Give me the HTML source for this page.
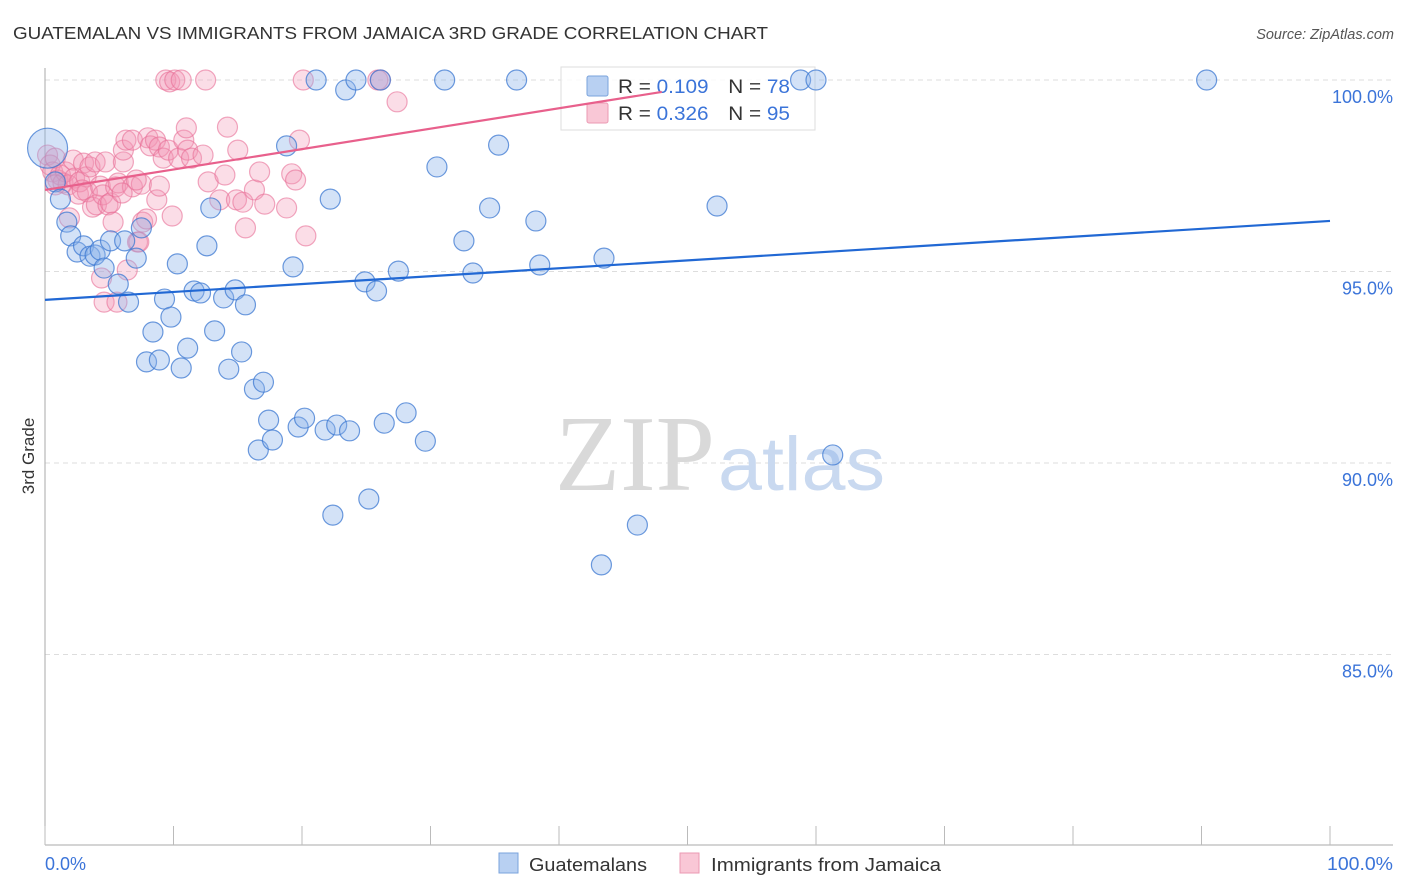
<!DOCTYPE html>
<html><head><meta charset="utf-8">
<style>
body{margin:0;background:#fff;font-family:"Liberation Sans",sans-serif;}
svg{display:block}
</style></head>
<body>
<svg width="1406" height="892" viewBox="0 0 1406 892">
<text x="13" y="39" font-size="17.5" fill="#333" textLength="755" lengthAdjust="spacingAndGlyphs">GUATEMALAN VS IMMIGRANTS FROM JAMAICA 3RD GRADE CORRELATION CHART</text>
<text x="1394" y="39" font-size="14.5" fill="#555" font-style="italic" text-anchor="end">Source: ZipAtlas.com</text>
<g id="grid"></g>
<g>
<text x="555" y="490" font-family="Liberation Serif,serif" font-size="108" fill="#d9d9d9" textLength="160" lengthAdjust="spacingAndGlyphs">ZIP</text>
<text x="718" y="490" font-size="76" fill="#c9d9f0" textLength="167" lengthAdjust="spacingAndGlyphs">atlas</text>
</g>
<g>
<rect x="561" y="67" width="254" height="63" fill="#fff" fill-opacity="0.85" stroke="#ddd"/>
<rect x="587" y="76" width="21" height="20" fill="#b8d0f2" stroke="#7aa3dc" rx="2"/>
<text x="618" y="93" font-size="19" fill="#333" textLength="172" lengthAdjust="spacingAndGlyphs">R = <tspan fill="#3b74d9">0.109</tspan><tspan dx="18">N = </tspan><tspan fill="#3b74d9">78</tspan></text>
<rect x="587" y="103" width="21" height="20" fill="#f9c7d6" stroke="#eb9ab3" rx="2"/>
<text x="618" y="120" font-size="19" fill="#333" textLength="172" lengthAdjust="spacingAndGlyphs">R = <tspan fill="#3b74d9">0.326</tspan><tspan dx="18">N = </tspan><tspan fill="#3b74d9">95</tspan></text>
</g>
<g id="marks"></g>
<text transform="translate(34,456) rotate(-90)" font-size="17" fill="#333" text-anchor="middle">3rd Grade</text>
<text x="45" y="870" font-size="18" fill="#3b74d9">0.0%</text>
<text x="1393" y="870" font-size="18" fill="#3b74d9" text-anchor="end" textLength="66" lengthAdjust="spacingAndGlyphs">100.0%</text>
<g>
<rect x="499" y="853" width="19" height="20" fill="#b8d0f2" stroke="#7aa3dc"/>
<text x="529" y="871" font-size="18.5" fill="#333" textLength="118" lengthAdjust="spacingAndGlyphs">Guatemalans</text></g>
<g>
<rect x="680" y="853" width="19" height="20" fill="#f9c7d6" stroke="#eb9ab3"/>
<text x="711" y="871" font-size="18.5" fill="#333" textLength="230" lengthAdjust="spacingAndGlyphs">Immigrants from Jamaica</text></g>
</svg>
<script>
const yTicks=[100,95,90,85];
const yTickLabels=["100.0%","95.0%","90.0%","85.0%"];
const xTickVals=[0,10,20,30,40,50,60,70,80,90,100];
const blueX=[0.2,0.8,1.2,1.7,2.0,2.5,3.0,3.5,3.9,4.3,4.6,5.1,5.7,6.2,6.5,7.1,7.5,8.4,7.9,8.9,9.3,9.8,10.3,10.6,11.1,11.6,12.1,12.6,12.9,13.2,13.9,14.3,14.8,15.3,15.6,16.3,16.6,17.0,17.4,17.7,18.8,19.3,19.7,20.2,21.1,21.8,22.2,22.4,22.7,23.4,23.7,24.2,24.9,25.2,25.8,26.1,26.4,27.5,28.1,29.6,30.5,31.1,32.6,33.3,34.6,35.3,36.7,38.2,38.5,43.3,43.5,46.1,52.3,58.8,60.0,61.3,90.4];
const blueY=[98.22,97.34,96.89,96.29,95.93,95.51,95.67,95.40,95.43,95.56,95.09,95.80,94.67,95.80,94.20,95.35,96.14,93.42,92.64,92.69,94.28,93.81,95.20,92.48,93.00,94.49,94.44,95.67,96.66,93.45,94.31,92.45,94.52,92.90,94.13,91.93,90.34,92.11,91.12,90.60,98.28,95.12,90.94,91.17,100,90.86,96.89,88.64,90.99,99.74,90.84,100,94.73,89.06,94.49,100,91.04,95.01,91.31,90.57,97.73,100,95.80,94.96,96.66,98.30,100,96.32,95.17,87.34,95.35,88.38,96.71,100,100,90.21,100];
const pinkX=[0.2,0.4,0.6,0.8,1.0,1.2,1.4,1.6,1.8,1.9,2.2,2.3,2.6,2.7,3.0,3.2,3.3,3.5,3.7,3.9,4.0,4.3,4.5,4.7,4.9,5.1,5.3,5.5,5.7,4.6,5.6,4.4,6.4,6.1,6.1,6.3,6.8,6.8,7.2,7.3,7.5,7.6,7.9,8.0,8.2,8.6,8.7,8.9,9.2,9.4,9.6,9.7,9.9,10.1,10.4,10.6,10.8,11.0,11.1,11.4,12.3,12.5,12.7,13.6,14.0,14.2,14.9,15.0,15.4,15.6,16.3,16.7,17.1,18.8,19.2,19.5,19.8,20.1,20.3,25.9,26.1,27.4,7.1,6.0,0.8,2.9,8.9];
const pinkY=[98.04,97.78,97.60,97.96,97.39,97.52,97.31,97.60,97.26,96.40,97.91,97.44,97.02,97.34,97.83,97.47,97.08,97.73,96.68,97.86,96.74,97.23,97.00,97.86,96.74,96.79,96.29,97.21,97.31,94.20,94.20,94.83,95.04,97.86,98.17,98.43,98.43,97.21,95.77,95.77,97.28,96.29,96.37,98.49,98.28,98.43,96.87,98.25,97.96,100,98.17,99.95,96.45,100,97.96,100,98.43,98.75,98.17,97.96,98.04,100,97.34,96.87,97.52,98.77,96.87,98.17,96.81,96.14,97.13,97.60,96.76,96.66,97.55,97.39,98.43,100,95.93,100,100,99.43,97.39,97.05,97.26,97.13,97.23];
const blueTrend=[94.26,96.32];
const pinkTrend=[97.13,0.0533,48];

const X0=45,X1=1330,YTOP=80,PPU=38.3;
const sx=v=>X0+(X1-X0)*v/100;
const sy=v=>YTOP+(100-v)*PPU;
const NS="http://www.w3.org/2000/svg";
function mk(tag,attrs,parent){const e=document.createElementNS(NS,tag);for(const k in attrs)e.setAttribute(k,attrs[k]);parent.appendChild(e);return e;}
const grid=document.getElementById('grid');
yTicks.forEach((t,i)=>{
  const l=mk('line',{x1:45,x2:1393,y1:sy(t),y2:sy(t),stroke:'#ddd','stroke-dasharray':'5,4'},grid);
  
  
  const tx=mk('text',{x:1393,y:sy(t)+23,'font-size':18,fill:'#3b74d9','text-anchor':'end'},grid);
  tx.textContent=yTickLabels[i];
  
  
});
const ax=mk('line',{x1:45,x2:45,y1:68,y2:845,stroke:'#aaa'},grid);


const bx=mk('line',{x1:45,x2:1393,y1:845,y2:845,stroke:'#aaa'},grid);


xTickVals.forEach(t=>{
  const l=mk('line',{x1:sx(t),x2:sx(t),y1:826,y2:845,stroke:'#bbb'},grid);
  
  
});
const marks=document.getElementById('marks');
pinkX.forEach((x,i)=>{
  const c=mk('circle',{cx:sx(x),cy:sy(pinkY[i]),r:10,fill:'rgba(244,150,180,0.32)',stroke:'rgba(232,110,150,0.6)','stroke-width':1.2},marks);
  
  
});
blueX.forEach((x,i)=>{
  const c=mk('circle',{cx:sx(x),cy:sy(blueY[i]),r:i===0?20:10,fill:'rgba(140,180,235,0.38)',stroke:'rgba(60,120,210,0.75)','stroke-width':1.2},marks);
  
  
});
const bl=mk('line',{x1:sx(0),y1:sy(blueTrend[0]),x2:sx(100),y2:sy(blueTrend[1]),stroke:'#2168d4','stroke-width':2.2},marks);


const pl=mk('line',{x1:sx(0),y1:sy(pinkTrend[0]),x2:sx(pinkTrend[2]),y2:sy(pinkTrend[0]+pinkTrend[1]*pinkTrend[2]),stroke:'#e8608c','stroke-width':2.2},marks);


</script>
</body></html>
